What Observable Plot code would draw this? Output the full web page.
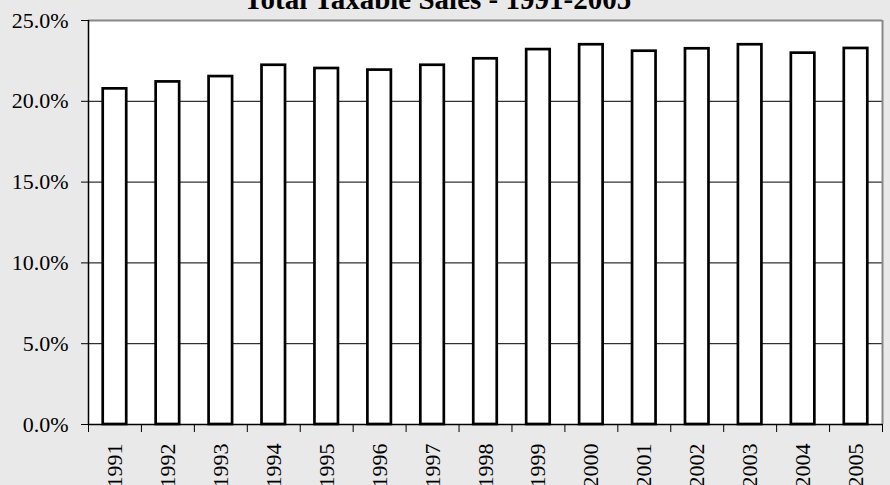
<!DOCTYPE html>
<html><head><meta charset="utf-8">
<script src="https://cdn.jsdelivr.net/npm/d3@7"></script>
<script src="https://cdn.jsdelivr.net/npm/@observablehq/plot@0.6"></script>
<style>
html,body{margin:0;padding:0;background:#e9e9e9;overflow:hidden;}
</style></head><body><div id="chart"></div>
<script>
const title = "Total Taxable Sales - 1991-2005";
const years = [1991, 1992, 1993, 1994, 1995, 1996, 1997, 1998, 1999, 2000, 2001, 2002, 2003, 2004, 2005];
const shares = [20.77, 21.2, 21.53, 22.23, 22.03, 21.93, 22.23, 22.63, 23.2, 23.5, 23.1, 23.25, 23.5, 22.98, 23.27];
const yTicks = [0, 5, 10, 15, 20, 25];

const data = years.map((year, i) => ({year, share: shares[i]}));
const half = 0.222;
const boundaries = [...years.map(y => y - 0.5), years[years.length - 1] + 0.5];
const font = "Liberation Serif, Times New Roman, serif";

const chart = Plot.plot({
  width: 890, height: 485,
  marginLeft: 88, marginRight: 8, marginTop: 20, marginBottom: 61,
  style: {background: "#e9e9e9", fontFamily: font, color: "black", overflow: "hidden"},
  x: {type: "linear", domain: [boundaries[0], boundaries[boundaries.length - 1]]},
  y: {domain: [yTicks[0], yTicks[yTicks.length - 1]]},
  marks: [
    Plot.frame({fill: "white", stroke: "none"}),
    Plot.ruleY(yTicks.slice(1, -1), {stroke: "black", strokeWidth: 1}),
    Plot.ruleY(yTicks.slice(-1), {stroke: "#888", strokeWidth: 2}),
    Plot.ruleX(boundaries.slice(-1), {stroke: "#888", strokeWidth: 2}),
    Plot.rectY(data, {x1: d => d.year - half, x2: d => d.year + half, y: "share", fill: "white", stroke: "black", strokeWidth: 2.7}),
    Plot.axisY(yTicks, {tickFormat: d => d.toFixed(1) + "%", tickSize: 7, tickPadding: 13, fontSize: 22, fontFamily: font, label: null}),
    Plot.axisX(boundaries, {tickSize: 8, fill: "none", label: null}),
    Plot.axisX(years, {tickFormat: d => String(d), tickSize: 0, tickPadding: 19, rotate: -90, textAnchor: "end", lineAnchor: "middle", fontSize: 22, fontFamily: font, label: null}),
    Plot.ruleX(boundaries.slice(0, 1), {stroke: "black", strokeWidth: 1.5}),
    Plot.ruleY(yTicks.slice(0, 1), {stroke: "black", strokeWidth: 1.5}),
    Plot.text([title], {frameAnchor: "top", dx: -48, dy: -21, lineAnchor: "middle", fontSize: 29, fontWeight: "bold", fontFamily: font, text: d => d, fill: "black"})
  ]
});
document.getElementById("chart").appendChild(chart);
</script></body></html>
